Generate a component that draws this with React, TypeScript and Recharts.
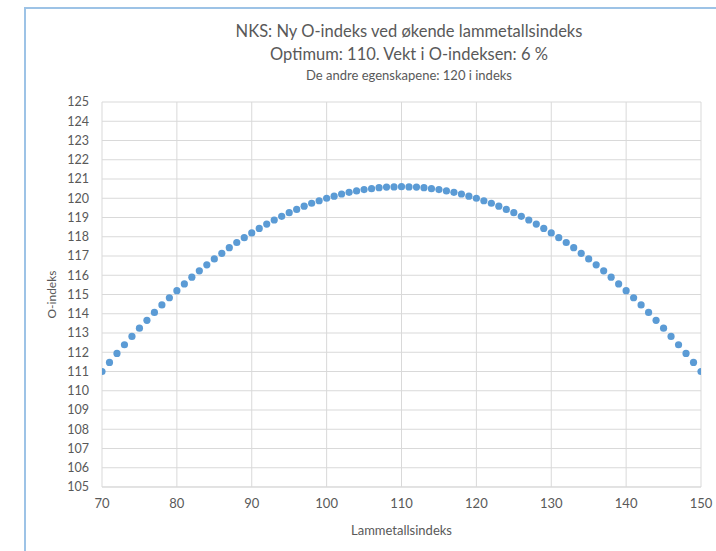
import React from "react";
import { ScatterChart, Scatter, XAxis, YAxis, CartesianGrid } from "recharts";

const xValues = [
  70, 71, 72, 73, 74, 75, 76, 77, 78, 79,
  80, 81, 82, 83, 84, 85, 86, 87, 88, 89,
  90, 91, 92, 93, 94, 95, 96, 97, 98, 99,
  100, 101, 102, 103, 104, 105, 106, 107, 108, 109,
  110, 111, 112, 113, 114, 115, 116, 117, 118, 119,
  120, 121, 122, 123, 124, 125, 126, 127, 128, 129,
  130, 131, 132, 133, 134, 135, 136, 137, 138, 139,
  140, 141, 142, 143, 144, 145, 146, 147, 148, 149, 150,
];

const oIndeks = [
  111.0, 111.47, 111.94, 112.39, 112.82, 113.25, 113.66, 114.07, 114.46, 114.83,
  115.2, 115.55, 115.9, 116.23, 116.54, 116.85, 117.14, 117.43, 117.7, 117.95,
  118.2, 118.43, 118.66, 118.87, 119.06, 119.25, 119.42, 119.59, 119.74, 119.87,
  120.0, 120.11, 120.22, 120.31, 120.38, 120.45, 120.5, 120.55, 120.58, 120.59,
  120.6, 120.59, 120.58, 120.55, 120.5, 120.45, 120.38, 120.31, 120.22, 120.11,
  120.0, 119.87, 119.74, 119.59, 119.42, 119.25, 119.06, 118.87, 118.66, 118.43,
  118.2, 117.95, 117.7, 117.43, 117.14, 116.85, 116.54, 116.23, 115.9, 115.55,
  115.2, 114.83, 114.46, 114.07, 113.66, 113.25, 112.82, 112.39, 111.94, 111.47, 111.0,
];

const xTicks = [70, 80, 90, 100, 110, 120, 130, 140, 150];
const yTicks = [
  105, 106, 107, 108, 109, 110, 111, 112, 113, 114, 115,
  116, 117, 118, 119, 120, 121, 122, 123, 124, 125,
];

const titleLines = [
  "NKS: Ny O-indeks ved økende lammetallsindeks",
  "Optimum: 110. Vekt i O-indeksen: 6 %",
  "De andre egenskapene: 120 i indeks",
];

const data = xValues.map((x, i) => ({ x, y: oIndeks[i] }));

const FONT = "Lato, 'Noto Sans', sans-serif";
const TEXT = "#595959";
const GRID = "#d9d9d9";

const Dot = (props: any) => {
  const { cx, cy } = props;
  if (cx == null || cy == null) return null;
  return <circle cx={cx} cy={cy} r={3.6} fill="#5b9bd5" />;
};

export default function App() {
  return (
    <div
      style={{
        position: "absolute",
        left: 0,
        top: 0,
        width: 716,
        height: 551,
        background: "#fff",
        overflow: "hidden",
        fontFamily: FONT,
      }}
    >
      <div
        style={{
          position: "absolute",
          left: 24,
          top: 7,
          width: 720,
          height: 580,
          border: "2px solid #9dc3e6",
          boxSizing: "border-box",
        }}
      />
      <div
        style={{
          position: "absolute",
          left: 0,
          top: 20,
          width: 818,
          textAlign: "center",
          color: TEXT,
        }}
      >
        <div style={{ fontSize: 16.5, lineHeight: "23px" }}>{titleLines[0]}</div>
        <div style={{ fontSize: 16.5, lineHeight: "22px" }}>{titleLines[1]}</div>
        <div style={{ fontSize: 13, lineHeight: "20px" }}>{titleLines[2]}</div>
      </div>
      <div style={{ position: "absolute", left: 0, top: 0 }}>
        <ScatterChart
          width={716}
          height={551}
          margin={{ top: 102, right: 15, bottom: 0, left: 40 }}
        >
          <CartesianGrid stroke={GRID} strokeWidth={1} />
          <XAxis
            type="number"
            dataKey="x"
            domain={[70, 150]}
            ticks={xTicks}
            interval={0}
            allowDataOverflow
            tickLine={false}
            axisLine={{ stroke: GRID }}
            tick={{ fill: TEXT, fontSize: 13, fontFamily: FONT }}
            tickMargin={12}
            tickSize={0}
            height={64}
            label={{
              value: "Lammetallsindeks",
              position: "insideBottom",
              offset: 16,
              fill: TEXT,
              fontSize: 13,
              fontFamily: FONT,
            }}
          />
          <YAxis
            type="number"
            dataKey="y"
            domain={[105, 125]}
            ticks={yTicks}
            interval={0}
            allowDataOverflow
            tickLine={false}
            axisLine={false}
            tick={{ fill: TEXT, fontSize: 12.5, fontFamily: FONT }}
            tickMargin={13}
            tickSize={0}
            width={62}
            label={{
              value: "O-indeks",
              angle: -90,
              position: "insideLeft",
              offset: 12,
              fill: TEXT,
              fontSize: 12,
              fontFamily: FONT,
              style: { textAnchor: "middle" },
            }}
          />
          <Scatter
            data={data}
            shape={Dot}
            isAnimationActive={false}
          />
        </ScatterChart>
      </div>
    </div>
  );
}
